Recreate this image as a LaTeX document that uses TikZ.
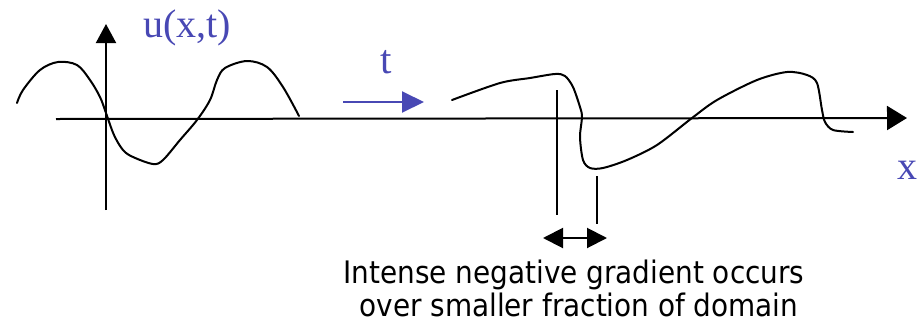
\documentclass[tikz,border=0pt]{standalone}
\usepackage{fontspec}
\setmainfont{Liberation Serif}
\newfontfamily\labelfont{DejaVu Sans Condensed}
\usetikzlibrary{arrows.meta}
\definecolor{lblue}{RGB}{72,72,180}
\tikzset{
  curve/.style={line width=2pt, line cap=round, line join=round},
  axisline/.style={line width=2pt},
  bluelabel/.style={text=lblue, inner sep=0pt},
  note/.style={font=\labelfont\fontsize{31}{33}\selectfont, inner sep=0pt, anchor=base}
}
\begin{document}
\begin{tikzpicture}[x=1pt,y=-1pt]
\useasboundingbox (0,0) rectangle (922,325);
% axes
\coordinate (xa0) at (56,119);
\coordinate (xa1) at (907,118);
\coordinate (ya0) at (106,210);
\coordinate (ya1) at (106,24);
\draw[axisline,-{Triangle[length=20pt,width=24pt]}] (xa0) -- (xa1);
\draw[axisline,-{Triangle[length=19pt,width=20pt]}] (ya0) -- (ya1);
% left curve
\draw[curve] plot[smooth,tension=0.55] coordinates {(17,103) (23,90) (40,70) (58,62) (77,65) (90,80) (100,97) (106,113) (114,135) (123,150) (133,157) (153,164) (163,160) (180,140) (197,120) (210,100) (217,80) (225,68) (247,61) (267,67) (283,87) (299,116)};
% right curve
\draw[curve] plot[smooth,tension=0.5] coordinates {(452,100) (500,83) (530,78) (555,74) (565,76) (573,87) (580,107) (582,117) (580,137) (583,160) (590,168) (603,168) (627,160) (657,145) (692,118) (717,100) (757,80) (787,72) (807,75) (817,83) (822,110) (825,122) (833,130) (853,132)};
% labels
\node[bluelabel,font=\fontsize{40}{42}\selectfont] (u) at (187,28) {u(x,t)};
\node[bluelabel,font=\fontsize{41}{43}\selectfont] (t) at (386,62) {t};
\node[bluelabel,font=\fontsize{40}{42}\selectfont] (x) at (907,170) {x};
% t arrow
\coordinate (ta0) at (343,102);
\coordinate (ta1) at (424,102);
\draw[lblue,line width=2pt,-{Triangle[length=22pt,width=21pt]}] (ta0) -- (ta1);
% markers
\coordinate (m1a) at (557,90);
\coordinate (m1b) at (557,215);
\coordinate (m2a) at (597,176);
\coordinate (m2b) at (597,224);
\draw[axisline] (m1a) -- (m1b);
\draw[axisline] (m2a) -- (m2b);
\coordinate (da0) at (543,238);
\coordinate (da1) at (607,238);
\draw[axisline,{Triangle[length=20pt,width=20pt]}-{Triangle[length=20pt,width=20pt]}] (da0) -- (da1);
\node[note] (note1) at (574,283) {Intense negative gradient occurs};
\node[note] (note2) at (579,316) {over smaller fraction of domain};
\end{tikzpicture}
\end{document}
